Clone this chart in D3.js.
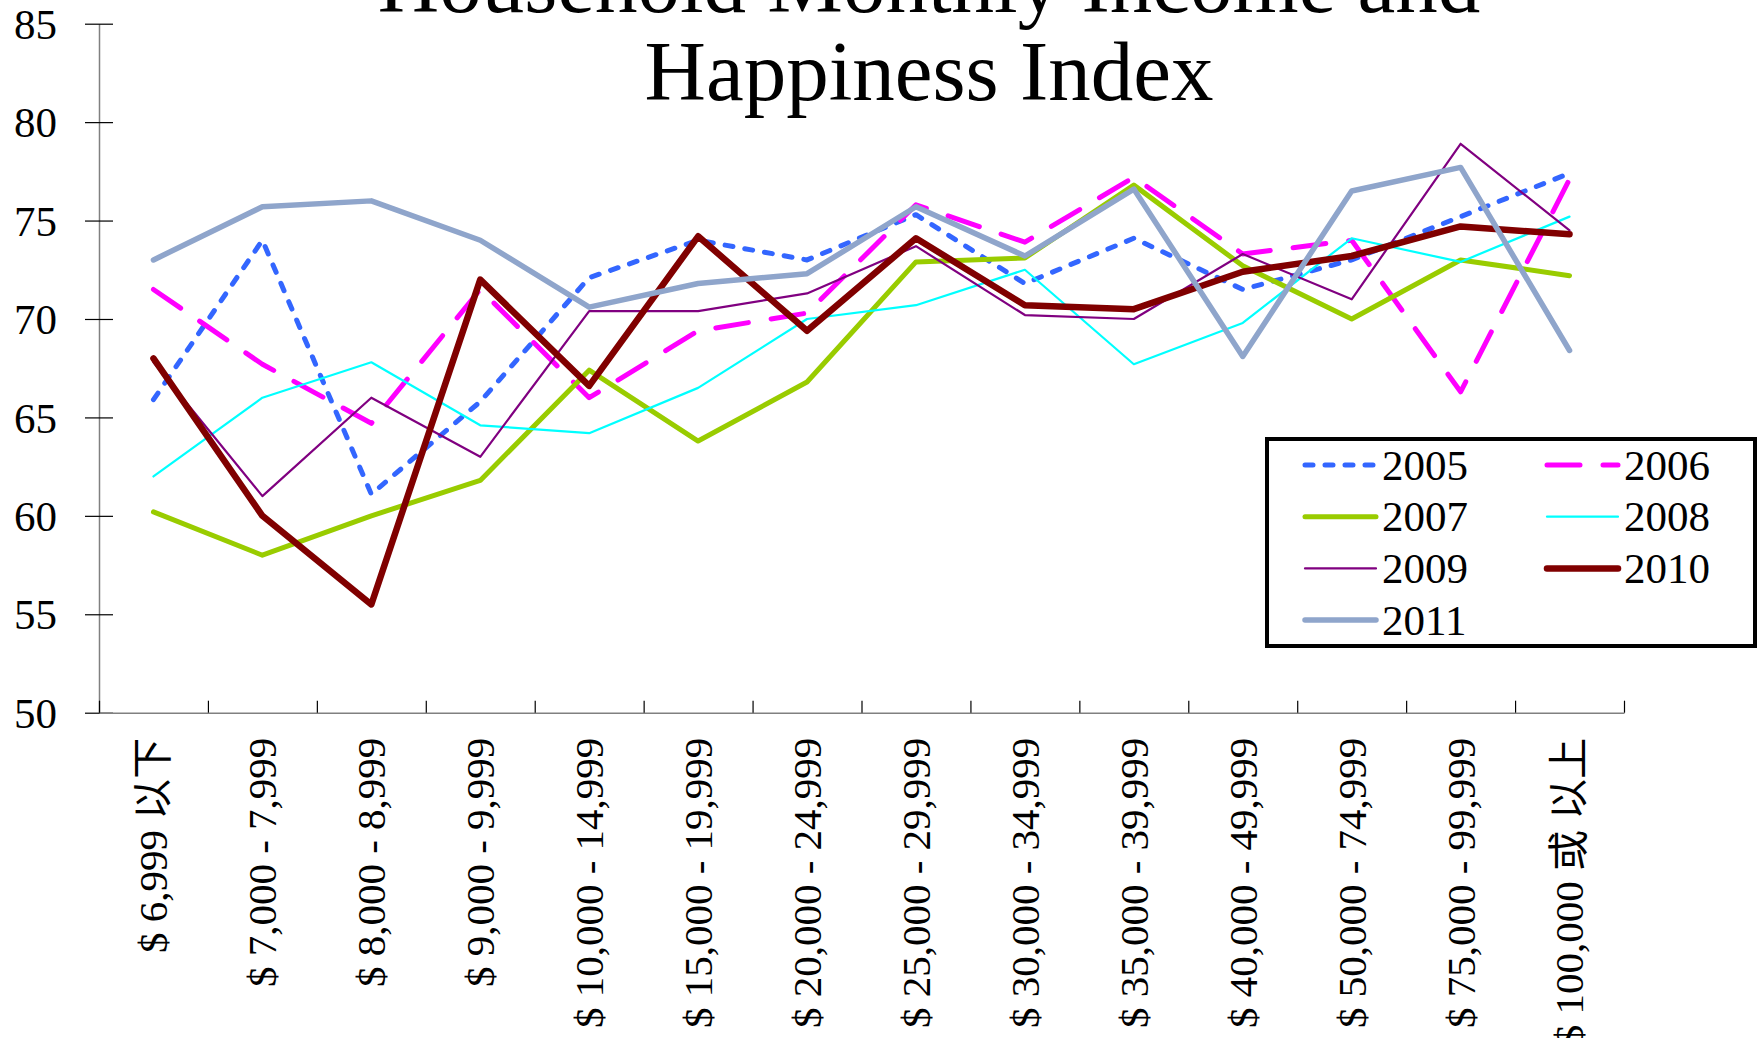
<!DOCTYPE html>
<html>
<head>
<meta charset="utf-8">
<script src="https://cdn.jsdelivr.net/npm/d3@7"></script>
<style>
  body { margin: 0; background: #fff; }
</style>
</head>
<body>
<div class="root"></div>
<script>
var categories = ["$ 6,999 以下", "$ 7,000 - 7,999", "$ 8,000 - 8,999", "$ 9,000 - 9,999",
  "$ 10,000 - 14,999", "$ 15,000 - 19,999", "$ 20,000 - 24,999", "$ 25,000 - 29,999",
  "$ 30,000 - 34,999", "$ 35,000 - 39,999", "$ 40,000 - 49,999", "$ 50,000 - 74,999",
  "$ 75,000 - 99,999", "$ 100,000 或 以上"];

var years = ["2005", "2006", "2007", "2008", "2009", "2010", "2011"];

var v2005 = [65.9, 74.0, 61.1, 65.8, 72.1, 74.0, 73.0, 75.3, 71.8, 74.1, 71.5, 73.0, 75.2, 77.4];
var v2006 = [71.5, 67.7, 64.7, 71.5, 66.0, 69.4, 70.3, 75.8, 73.9, 77.2, 73.3, 74.0, 66.3, 77.1];
var v2007 = [60.2, 58.0, 60.0, 61.8, 67.4, 63.8, 66.8, 72.9, 73.1, 76.8, 72.7, 70.0, 73.0, 72.2];
var v2008 = [62.0, 66.0, 67.8, 64.6, 64.2, 66.5, 70.0, 70.7, 72.5, 67.7, 69.8, 74.1, 72.9, 75.2];
var v2009 = [67.8, 61.0, 66.0, 63.0, 70.4, 70.4, 71.3, 73.7, 70.2, 70.0, 73.3, 71.0, 78.9, 74.5];
var v2010 = [68.0, 60.0, 55.5, 72.0, 66.6, 74.2, 69.4, 74.1, 70.7, 70.5, 72.4, 73.2, 74.7, 74.3];
var v2011 = [73.0, 75.7, 76.0, 74.0, 70.6, 71.8, 72.3, 75.7, 73.2, 76.6, 68.1, 76.5, 77.7, 68.4];

var yTicks = [50, 55, 60, 65, 70, 75, 80, 85];

// DATA ONLY ^^^

var values = [v2005, v2006, v2007, v2008, v2009, v2010, v2011];

var styles = {
  "2005": {color: "#3366ff", width: 5,   dash: "8,12"},
  "2006": {color: "#ff00ff", width: 5,   dash: "33,23"},
  "2007": {color: "#99cc00", width: 5,   dash: null},
  "2008": {color: "#00ffff", width: 2.2, dash: null},
  "2009": {color: "#800080", width: 2.2, dash: null},
  "2010": {color: "#800000", width: 6.5, dash: null},
  "2011": {color: "#8fa5cb", width: 5.5, dash: null}
};

var serif = "'Liberation Serif', 'Noto Sans CJK SC', serif";

var width = 1762,
    height = 1038,
    plotLeft = 99,
    plotRight = 1624,
    plotTop = 23.7,
    plotBottom = 712.7;

var svg = d3.select('.root')
            .append('svg')
            .attr("width", width)
            .attr("height", height)
            .style("display", "block");

var x = d3.scaleBand()
          .domain(categories)
          .range([plotLeft, plotRight]);

var xEdge = d3.scaleLinear()
              .domain([0, categories.length])
              .range([plotLeft, plotRight]);

var y = d3.scaleLinear()
          .domain([50, 85])
          .range([plotBottom, plotTop]);

// title
var title = svg.append('text')
               .attr("text-anchor", "middle")
               .style("font-family", serif)
               .style("font-size", "85px");
title.append('tspan').attr("x", 929).attr("y", 12).text("Household Monthly Income and");
title.append('tspan').attr("x", 929).attr("y", 100).text("Happiness Index");

// y axis
var yAxis = svg.append('g')
               .attr("transform", "translate(" + plotLeft + ",0)")
               .call(d3.axisLeft(y).tickValues(yTicks).tickSizeInner(14).tickSizeOuter(0).tickPadding(0));
yAxis.select('.domain').attr("stroke", "#808080").attr("stroke-width", 1.5);
yAxis.selectAll('.tick line').attr("x1", -14).attr("x2", 14).attr("stroke", "#000").attr("stroke-width", 1.2);
yAxis.selectAll('.tick text')
     .attr("x", -42)
     .attr("dy", "0.34em")
     .style("font-size", "43px")
     .style("font-family", serif)
     .attr("fill", "#000");

// x axis
var xAxis = svg.append('g')
               .attr("transform", "translate(0," + plotBottom + ")")
               .call(d3.axisBottom(xEdge).tickValues(d3.range(categories.length + 1))
                       .tickSizeInner(-12).tickSizeOuter(0).tickFormat(""));
xAxis.select('.domain').attr("stroke", "#808080").attr("stroke-width", 1.5);
xAxis.selectAll('.tick line').attr("stroke", "#000").attr("stroke-width", 1.2);

svg.append('g')
   .selectAll('text')
   .data(categories)
   .enter()
   .append('text')
   .attr("transform", function (d) { return "translate(" + (x(d) + x.bandwidth() / 2) + "," + (plotBottom + 25) + ") rotate(-90)"; })
   .attr("text-anchor", "end")
   .attr("dy", "0.34em")
   .style("font-family", serif)
   .style("font-size", "41px")
   .text(function (d) { return d; });

// series
var line = d3.line()
             .x(function (d, i) { return x(categories[i]) + x.bandwidth() / 2; })
             .y(function (d) { return y(d); });

svg.append('g')
   .selectAll('path')
   .data(years)
   .enter()
   .append('path')
   .attr("d", function (d, i) { return line(values[i]); })
   .attr("fill", "none")
   .attr("stroke", function (d) { return styles[d].color; })
   .attr("stroke-width", function (d) { return styles[d].width; })
   .attr("stroke-dasharray", function (d) { return styles[d].dash; })
   .attr("stroke-linecap", "round")
   .attr("stroke-linejoin", "round");

// legend
var legend = svg.append('g');
legend.append('rect')
      .attr("x", 1267)
      .attr("y", 439)
      .attr("width", 488)
      .attr("height", 207)
      .attr("fill", "#fff")
      .attr("stroke", "#000")
      .attr("stroke-width", 4);

var item = legend.selectAll('g')
                 .data(years)
                 .enter()
                 .append('g')
                 .attr("transform", function (d, i) {
                   return "translate(" + (i % 2 ? 1547 : 1305) + "," + (465 + Math.floor(i / 2) * 51.7) + ")";
                 });

item.append('line')
    .attr("x1", 0)
    .attr("x2", 71)
    .attr("stroke", function (d) { return styles[d].color; })
    .attr("stroke-width", function (d) { return styles[d].width; })
    .attr("stroke-dasharray", function (d) { return styles[d].dash; })
    .attr("stroke-linecap", "round");

item.append('text')
    .attr("x", 77)
    .attr("dy", "0.34em")
    .style("font-family", serif)
    .style("font-size", "43px")
    .text(function (d) { return d; });
</script>
</body>
</html>
